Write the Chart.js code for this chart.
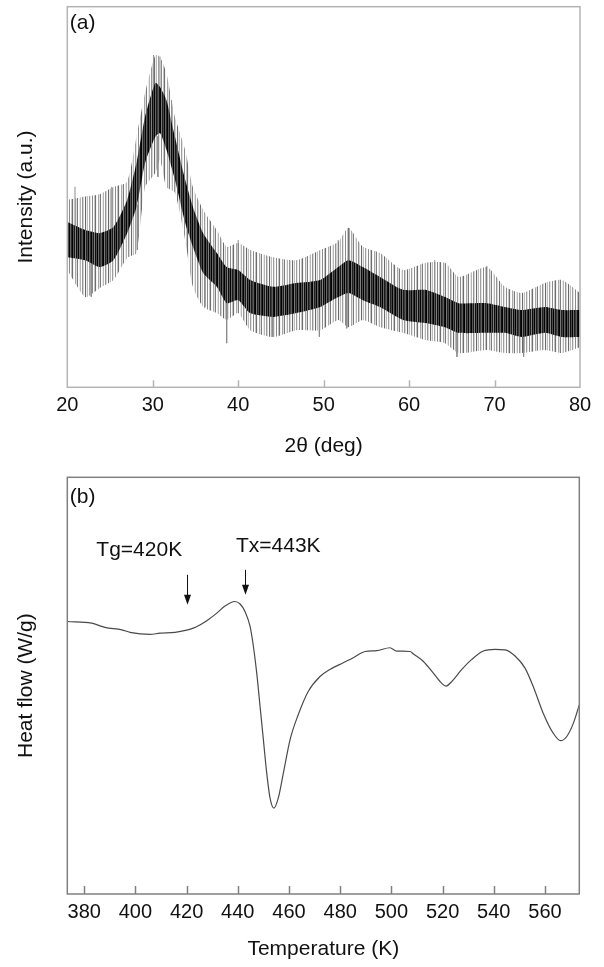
<!DOCTYPE html>
<html>
<head>
<meta charset="utf-8">
<title>XRD and DSC</title>
<script src="https://cdn.jsdelivr.net/npm/chart.js@4.4.1/dist/chart.umd.min.js"></script>
<style>
  html, body { margin: 0; padding: 0; background: #fff; }
  #wrap { position: relative; width: 604px; height: 967px; }
  #xrdBox { position: absolute; left: 0; top: 0; width: 604px; height: 470px; }
  #dscBox { position: absolute; left: 0; top: 470px; width: 604px; height: 497px; }
</style>
</head>
<body>
<div id="wrap">
  <div id="xrdBox"><canvas id="xrdChart"></canvas></div>
  <div id="dscBox"><canvas id="dscChart"></canvas></div>
</div>
<script>
// (a) XRD - intensity band (a.u., 0-100)
const twoTheta      = [20.0, 22.1, 23.8, 25.4, 27.0, 28.1, 29.1, 30.3, 30.85, 31.6, 32.6, 33.8, 34.7, 35.9, 37.5, 38.65, 40.0, 41.4, 44.1, 46.8, 49.6, 51.7, 52.9, 54.6, 56.6, 59.3, 61.9, 64.2, 65.8, 69.1, 71.2, 73.2, 75.9, 77.9, 80.0];
const xrdTop        = [49.2, 50.1, 50.7, 52.6, 54.0, 65.9, 77.3, 87.3, 86.8, 82.6, 71.0, 62.3, 52.6, 46.6, 41.3, 36.9, 37.9, 36.1, 34.2, 33.4, 36.1, 38.2, 41.9, 36.9, 35.3, 30.8, 32.7, 32.7, 29.0, 31.6, 26.4, 24.8, 27.4, 28.2, 24.8];
const xrdBottom     = [30.8, 23.7, 26.1, 28.2, 34.0, 35.3, 52.6, 56.3, 59.8, 52.6, 51.1, 38.7, 26.4, 21.1, 19.5, 17.7, 19.5, 15.0, 13.2, 15.0, 15.0, 17.7, 15.8, 17.7, 15.8, 14.3, 12.4, 11.6, 9.0, 9.8, 9.0, 9.0, 9.8, 9.0, 10.5];
const xrdCoreTop    = [43.4, 41.3, 40.5, 42.1, 49.2, 59.0, 71.0, 80.0, 78.9, 75.5, 65.8, 54.5, 47.4, 40.5, 35.3, 31.6, 30.8, 28.2, 26.4, 27.4, 28.2, 31.6, 33.4, 31.6, 29.0, 25.6, 25.6, 23.7, 22.1, 22.1, 21.1, 20.3, 21.1, 20.3, 20.3];
const xrdCoreBottom = [34.2, 33.4, 31.6, 33.4, 40.5, 47.4, 58.9, 65.8, 66.8, 62.4, 54.5, 43.2, 36.9, 30.0, 26.4, 22.1, 22.9, 19.5, 18.5, 19.5, 21.1, 23.7, 24.8, 22.9, 21.1, 17.7, 16.9, 15.8, 14.3, 14.3, 14.3, 13.2, 14.3, 13.2, 13.2];
// single tall spikes: [2theta, from, to]
const xrdSpikes = [[20.9, 40, 52.7], [22.8, 35, 23.8], [25.2, 40, 52.7], [28.2, 48, 36.1], [30.1, 75, 87.3], [30.6, 66, 55.3], [30.85, 75, 86.9], [32.2, 65, 75.5], [36.1, 30, 21.2], [38.65, 25, 11.6], [40.0, 30, 38.7], [44.0, 20, 13.3], [49.5, 22, 13.3], [51.7, 30, 38.7], [52.7, 25, 15.5], [53.0, 32, 41.8], [63.0, 24, 33.4], [65.6, 16, 8.0], [69.1, 22, 31.9], [73.4, 16, 8.0]];
const xrdTicks = [20, 30, 40, 50, 60, 70, 80];

// (b) DSC
const temperature = [373.4, 382.9, 388.1, 394.7, 397.9, 405.7, 409.6, 415.5, 422.6, 427.9, 431.8, 435.0, 438.8, 440.9, 442.9, 444.8, 446.1, 447.4, 448.7, 450.0, 451.3, 452.6, 454.1, 455.8, 457.8, 460.4, 463.6, 467.5, 472.1, 476.0, 481.2, 485.1, 489.7, 494.3, 499.4, 502.1, 507.3, 508.6, 512.5, 516.4, 519.6, 521.3, 523.6, 527.5, 531.4, 535.9, 540.5, 544.4, 548.3, 552.2, 555.4, 559.3, 563.2, 566.1, 568.5, 571.1, 573.4];
const heatFlow    = [65.4, 65.0, 64.0, 63.4, 62.8, 62.3, 62.6, 62.8, 63.8, 65.6, 67.4, 69.1, 70.2, 69.6, 67.7, 64.2, 59.4, 53.0, 45.0, 37.0, 29.0, 23.0, 20.6, 23.0, 29.0, 37.0, 43.0, 48.6, 52.2, 53.9, 55.5, 56.7, 58.2, 58.4, 59.1, 58.3, 58.2, 57.6, 55.8, 53.0, 50.6, 49.9, 51.0, 53.9, 56.3, 58.3, 58.7, 58.6, 57.1, 54.2, 49.8, 43.4, 38.6, 36.8, 37.8, 41.0, 45.4];
const dscTicks = [380, 400, 420, 440, 460, 480, 500, 520, 540, 560];
const dscMarks = [
  { label: 'Tg=420K', at: 420, textAt: 401.5, textY: 82.6, from: 76.6, to: 69.4 },
  { label: 'Tx=443K', at: 443, textAt: 455.8, textY: 83.4, from: 77.8, to: 71.8 }
];

const FONT = 'Liberation Sans, Arial, Helvetica, sans-serif';
const ink = '#111';

// striped fill so the band reads like a dense trace of thin lines
function stripes(cols) {
  const c = document.createElement('canvas');
  c.width = cols.length; c.height = 2;
  const g = c.getContext('2d');
  cols.forEach((col, i) => { g.fillStyle = col; g.fillRect(i, 0, 1, 2); });
  return g.createPattern(c, 'repeat');
}

function pts(xs, ys) {
  return xs.map((x, i) => ({ x: x, y: ys[i] }));
}

// frame, inward ticks and panel letter
const framePlugin = {
  id: 'frame',
  afterDatasetsDraw(chart, args, opts) {
    const { ctx, chartArea: a } = chart;
    const x = chart.scales.x;
    ctx.save();
    ctx.strokeStyle = opts.color;
    ctx.lineWidth = opts.width;
    ctx.strokeRect(a.left, a.top, a.right - a.left, a.bottom - a.top);
    opts.ticks.forEach(v => {
      const px = Math.round(x.getPixelForValue(v)) + 0.5;
      ctx.beginPath();
      ctx.moveTo(px, a.bottom);
      ctx.lineTo(px, a.bottom - opts.tickLen);
      ctx.stroke();
    });
    ctx.fillStyle = ink;
    ctx.font = '21px ' + FONT;
    ctx.textBaseline = 'middle';
    ctx.textAlign = 'left';
    ctx.fillText(opts.label, a.left + 2.5, a.top + opts.labelDy);
    ctx.restore();
  }
};

// arrows with Tg / Tx text
const markPlugin = {
  id: 'marks',
  afterDatasetsDraw(chart) {
    const { ctx } = chart;
    const x = chart.scales.x, y = chart.scales.y;
    ctx.save();
    ctx.fillStyle = ink;
    ctx.strokeStyle = ink;
    ctx.lineWidth = 1;
    ctx.font = '21px ' + FONT;
    ctx.textAlign = 'center';
    ctx.textBaseline = 'middle';
    dscMarks.forEach(m => {
      ctx.fillText(m.label, x.getPixelForValue(m.textAt), y.getPixelForValue(m.textY));
      const px = Math.round(x.getPixelForValue(m.at)) + 0.5;
      const y0 = y.getPixelForValue(m.from), y1 = y.getPixelForValue(m.to);
      ctx.beginPath();
      ctx.moveTo(px, y0);
      ctx.lineTo(px, y1 - 9);
      ctx.stroke();
      ctx.beginPath();
      ctx.moveTo(px - 3.5, y1 - 10);
      ctx.lineTo(px + 3.5, y1 - 10);
      ctx.lineTo(px, y1);
      ctx.closePath();
      ctx.fill();
    });
    ctx.restore();
  }
};

const tickFont = { family: FONT, size: 20 };
const titleFont = { family: FONT, size: 21 };

// (a)
const fringe = stripes(['#8a8a8a', '#ffffff', '#c4c4c4', '#6e6e6e', '#f2f2f2', '#ffffff', '#a8a8a8', '#dedede',
                        '#7c7c7c', '#ffffff', '#e8e8e8', '#b6b6b6', '#ffffff', '#939393', '#d4d4d4', '#fafafa',
                        '#6a6a6a', '#ececec', '#bcbcbc', '#ffffff', '#9e9e9e', '#e4e4e4', '#ffffff']);
const core = stripes(['#0c0c0c', '#4e4e4e', '#000000', '#686868', '#1a1a1a', '#3a3a3a', '#5c5c5c', '#101010',
                      '#000000', '#777777', '#202020', '#474747', '#050505', '#626262', '#2a2a2a', '#000000', '#555555', '#181818', '#808080']);

const spikePts = [];
xrdSpikes.forEach(s => {
  spikePts.push({ x: s[0], y: s[1] }, { x: s[0], y: s[2] }, { x: s[0], y: null });
});

new Chart(document.getElementById('xrdChart'), {
  type: 'line',
  data: {
    datasets: [
      { data: pts(twoTheta, xrdTop), fill: '+1', backgroundColor: fringe, borderWidth: 0, pointRadius: 0, tension: 0.2, order: 3 },
      { data: pts(twoTheta, xrdBottom), fill: false, borderWidth: 0, pointRadius: 0, tension: 0.2, order: 3 },
      { data: spikePts, fill: false, borderColor: '#8c8c8c', borderWidth: 1, pointRadius: 0, spanGaps: false, order: 2 },
      { data: pts(twoTheta, xrdCoreTop), fill: '+1', backgroundColor: core, borderWidth: 0, pointRadius: 0, tension: 0.2, order: 1 },
      { data: pts(twoTheta, xrdCoreBottom), fill: false, borderWidth: 0, pointRadius: 0, tension: 0.2, order: 1 }
    ]
  },
  options: {
    animation: false,
    responsive: true,
    maintainAspectRatio: false,
    layout: { padding: { top: 6.7, right: 24, bottom: 0, left: 0 } },
    plugins: {
      legend: { display: false },
      tooltip: { enabled: false },
      frame: { color: '#b4b4b4', width: 1.5, ticks: [30, 40, 50, 60, 70], tickLen: 7, label: '(a)', labelDy: 16.6 }
    },
    scales: {
      x: {
        type: 'linear', min: 20, max: 80,
        afterBuildTicks: s => { s.ticks = xrdTicks.map(v => ({ value: v })); },
        afterFit: s => { s.height = 82.7; },
        grid: { display: false, drawTicks: false },
        border: { display: false },
        ticks: { font: tickFont, color: ink, padding: 6, maxRotation: 0 },
        title: { display: true, text: '2θ (deg)', font: titleFont, color: ink, padding: { top: 0, bottom: 11.4 } }
      },
      y: {
        min: 0, max: 100,
        afterFit: s => { s.width = 67.3; },
        grid: { display: false, drawTicks: false },
        border: { display: false },
        ticks: { display: false },
        title: { display: true, text: 'Intensity (a.u.)', font: titleFont, color: ink, padding: { top: 13.4, bottom: 0 } }
      }
    }
  },
  plugins: [framePlugin]
});

// (b)
new Chart(document.getElementById('dscChart'), {
  type: 'line',
  data: {
    datasets: [
      { data: pts(temperature, heatFlow), fill: false, borderColor: '#4a4a4a', borderWidth: 1.2, pointRadius: 0, cubicInterpolationMode: 'monotone' }
    ]
  },
  options: {
    animation: false,
    responsive: true,
    maintainAspectRatio: false,
    layout: { padding: { top: 7.3, right: 24.7, bottom: 0, left: 0 } },
    plugins: {
      legend: { display: false },
      tooltip: { enabled: false },
      frame: { color: '#808080', width: 1.5, ticks: dscTicks, tickLen: 8, label: '(b)', labelDy: 20.2 }
    },
    scales: {
      x: {
        type: 'linear', min: 373.4, max: 573.4,
        afterBuildTicks: s => { s.ticks = dscTicks.map(v => ({ value: v })); },
        afterFit: s => { s.height = 73; },
        grid: { display: false, drawTicks: false },
        border: { display: false },
        ticks: { font: tickFont, color: ink, padding: 6, maxRotation: 0 },
        title: { display: true, text: 'Temperature (K)', font: titleFont, color: ink, padding: { top: 0, bottom: 5 } }
      },
      y: {
        min: 0, max: 100,
        afterFit: s => { s.width = 67.3; },
        grid: { display: false, drawTicks: false },
        border: { display: false },
        ticks: { display: false },
        title: { display: true, text: 'Heat flow (W/g)', font: titleFont, color: ink, padding: { top: 13.4, bottom: 0 } }
      }
    }
  },
  plugins: [framePlugin, markPlugin]
});
</script>
</body>
</html>
